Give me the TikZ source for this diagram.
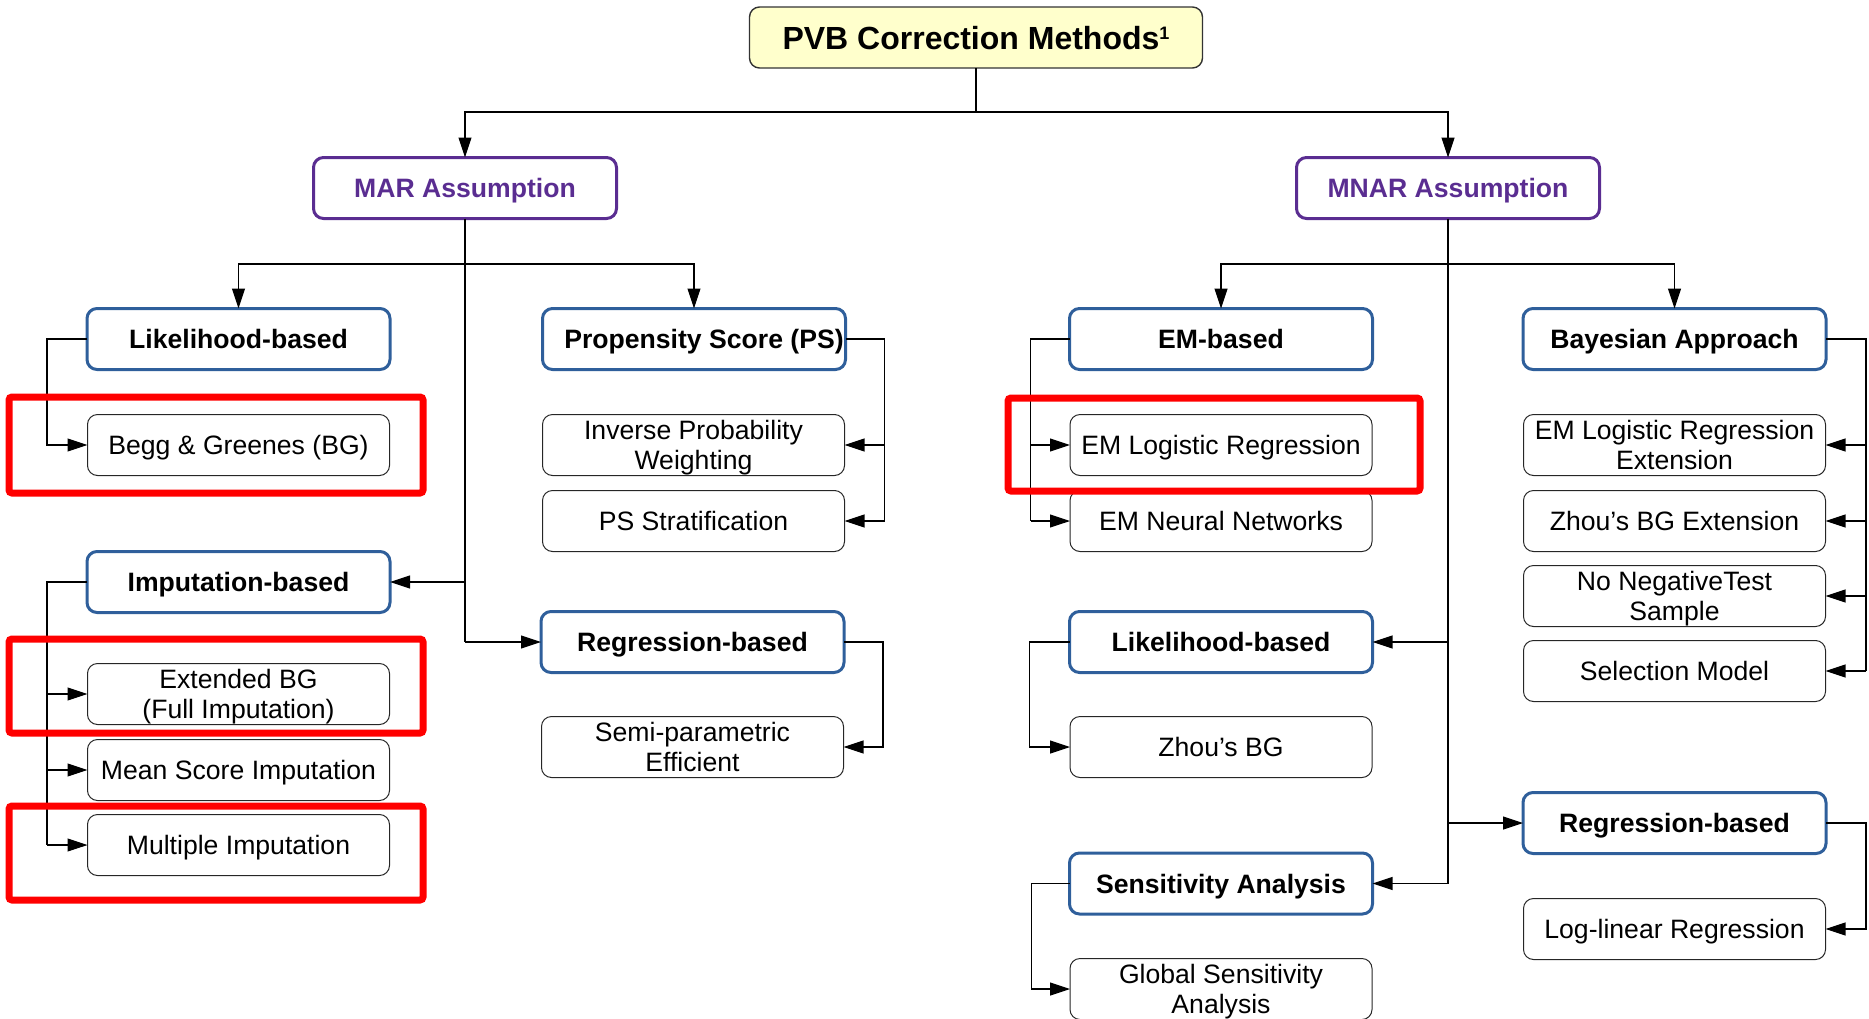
\documentclass[tikz,border=0pt]{standalone}
\usepackage{fontspec}
\setmainfont{Liberation Sans}
\usetikzlibrary{arrows.meta}
\definecolor{bluebd}{HTML}{2F5F9B}
\definecolor{purp}{HTML}{5A2D91}
\definecolor{ttlfill}{HTML}{FFFFCC}
\definecolor{redbd}{HTML}{FF0000}
\newcommand{\oneln}[1]{\rule[-4pt]{0pt}{17.5pt}#1}
\newcommand{\twoln}[2]{\rule{0pt}{12.5pt}#1\\#2\rule[-3pt]{0pt}{3pt}}
\begin{document}
\begin{tikzpicture}[x=0.5pt,y=-0.5pt,
  every node/.style={inner sep=0pt, outer sep=0pt},
  titlebox/.style={draw=black!80, line width=0.7pt, fill=ttlfill, rounded corners=5pt,
    minimum width=226.5pt, minimum height=30.5pt, text height=11.5pt, text depth=0pt,
    font=\fontsize{16}{19}\selectfont\bfseries},
  assum/.style={draw=purp, line width=1.5pt, rounded corners=5pt, minimum width=151.5pt,
    minimum height=30.5pt, text height=9.5pt, text depth=0pt, text=purp,
    font=\fontsize{13.3}{15.5}\selectfont\bfseries},
  catbox/.style={draw=bluebd, line width=1.5pt, rounded corners=5pt, minimum width=151.5pt,
    minimum height=30.5pt, text height=9.5pt, text depth=0pt,
    font=\fontsize{13.3}{15.5}\selectfont\bfseries},
  leaf/.style={draw=black!85, line width=0.5pt, rounded corners=5pt, minimum width=151pt,
    minimum height=30.5pt, align=center, font=\fontsize{13.3}{14.8}\selectfont},
  conn/.style={draw=black, line width=0.55pt},
  arr/.style={conn, -{Triangle[length=10pt,width=6.5pt]}},
  hilite/.style={draw=redbd, line width=3.5pt, rounded corners=1.5pt}
]
\useasboundingbox (0,0) rectangle (1869,1018);

% top levels
\node[titlebox] (title) at (976,37.5) {PVB Correction Methods\raisebox{5pt}{\fontsize{9}{9}\selectfont 1}};
\node[assum] (mar) at (465,188) {MAR Assumption};
\node[assum] (mnar) at (1448,188) {MNAR Assumption};

% MAR side
\node[catbox] (likM) at (238.5,339) {Likelihood-based};
\node[catbox] (ps) at (694,339) {Propensity Score (PS)\hspace*{-10pt}};
\node[leaf] (begg) at (238.5,445) {\oneln{Begg \& Greenes (BG)}};
\node[leaf] (ipw) at (693.5,445) {\twoln{Inverse Probability}{Weighting}};
\node[leaf] (pss) at (693.5,521) {\oneln{PS Stratification}};
\node[catbox] (impM) at (238.5,582) {Imputation-based};
\node[catbox] (regM) at (692.5,642) {Regression-based};
\node[leaf] (ext) at (238.5,694) {\twoln{Extended BG}{(Full Imputation)}};
\node[leaf] (mean) at (238.5,770) {\oneln{Mean Score Imputation}};
\node[leaf] (multi) at (238.5,845) {\oneln{Multiple Imputation}};
\node[leaf] (semi) at (692.5,747) {\twoln{Semi-parametric}{Efficient}};

% MNAR side
\node[catbox] (emb) at (1221,339) {EM-based};
\node[catbox] (bay) at (1674.5,339) {Bayesian Approach};
\node[leaf] (emlr) at (1221,445) {\oneln{EM Logistic Regression}};
\node[leaf] (emnn) at (1221,521) {\oneln{EM Neural Networks}};
\node[leaf] (bl1) at (1674.5,445) {\twoln{EM Logistic Regression}{Extension}};
\node[leaf] (bl2) at (1674.5,521) {\oneln{Zhou’s BG Extension}};
\node[leaf] (bl3) at (1674.5,596) {\twoln{No NegativeTest}{Sample}};
\node[leaf] (bl4) at (1674.5,671) {\oneln{Selection Model}};
\node[catbox] (likN) at (1221,642) {Likelihood-based};
\node[leaf] (zbg) at (1221,747) {\oneln{Zhou’s BG}};
\node[catbox] (regN) at (1674.5,823) {Regression-based};
\node[leaf] (loglin) at (1674.5,929) {\oneln{Log-linear Regression}};
\node[catbox] (sens) at (1221,883.5) {Sensitivity Analysis};
\node[leaf] (gsa) at (1221,989) {\twoln{Global Sensitivity}{Analysis}};

% top connectors
\draw[conn] (title.south) -- (title.south |- 0,112);
\draw[arr] (title.south |- 0,112) -| (mar.north);
\draw[arr] (title.south |- 0,112) -| (mnar.north);

% MAR trunk
\draw[conn] (mar.south) -- (mar.south |- regM.west);
\draw[arr] (mar.south |- 0,264) -| (likM.north);
\draw[arr] (mar.south |- 0,264) -| (ps.north);
\draw[arr] (mar.south |- impM.east) -- (impM.east);
\draw[arr] (mar.south |- regM.west) -- (regM.west);

\draw[arr] (likM.west) -- ++(-40,0) |- (begg.west);

\coordinate (tPS) at ([xshift=19.5pt]ps.east);
\draw[conn] (ps.east) -- (tPS) -- (tPS |- pss.east);
\draw[arr] (tPS |- ipw.east) -- (ipw.east);
\draw[arr] (tPS |- pss.east) -- (pss.east);

\coordinate (tImp) at ([xshift=-20pt]impM.west);
\draw[conn] (impM.west) -- (tImp) -- (tImp |- multi.west);
\draw[arr] (tImp |- ext.west) -- (ext.west);
\draw[arr] (tImp |- mean.west) -- (mean.west);
\draw[arr] (tImp |- multi.west) -- (multi.west);

\draw[arr] (regM.east) -- ++(39,0) |- (semi.east);

% MNAR trunk
\draw[conn] (mnar.south) -- (mnar.south |- sens.east);
\draw[arr] (mnar.south |- 0,264) -| (emb.north);
\draw[arr] (mnar.south |- 0,264) -| (bay.north);
\draw[arr] (mnar.south |- likN.east) -- (likN.east);
\draw[arr] (mnar.south |- regN.west) -- (regN.west);
\draw[arr] (mnar.south |- sens.east) -- (sens.east);

\coordinate (tEM) at ([xshift=-19.5pt]emb.west);
\draw[conn] (emb.west) -- (tEM) -- (tEM |- emnn.west);
\draw[arr] (tEM |- emlr.west) -- (emlr.west);
\draw[arr] (tEM |- emnn.west) -- (emnn.west);

\draw[arr] (likN.west) -- ++(-40,0) |- (zbg.west);
\draw[arr] (sens.west) -- ++(-38,0) |- (gsa.west);

\coordinate (tB) at ([xshift=20pt]bay.east);
\draw[conn] (bay.east) -- (tB) -- (tB |- bl4.east);
\draw[arr] (tB |- bl1.east) -- (bl1.east);
\draw[arr] (tB |- bl2.east) -- (bl2.east);
\draw[arr] (tB |- bl3.east) -- (bl3.east);
\draw[arr] (tB |- bl4.east) -- (bl4.east);

\draw[arr] (regN.east) -- ++(40,0) |- (loglin.east);

% highlight frames
\draw[hilite] (9,397) rectangle (423,493);
\draw[hilite] (9,639) rectangle (423,733);
\draw[hilite] (9,806) rectangle (423,900);
\draw[hilite] (1008,398) rectangle (1420,491);
\end{tikzpicture}
\end{document}
